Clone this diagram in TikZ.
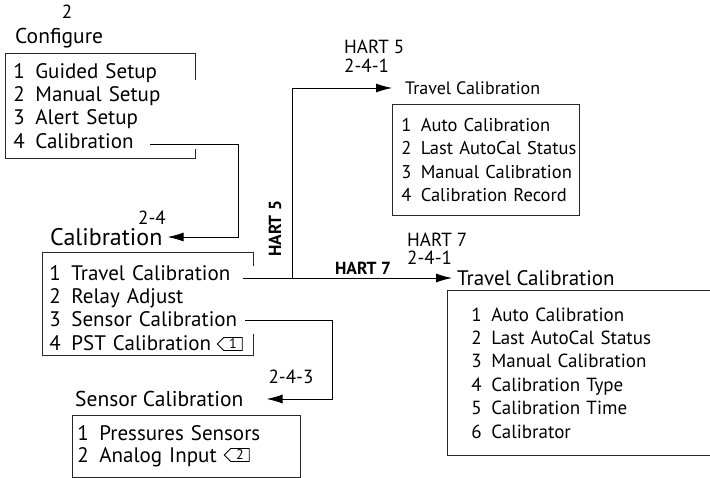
\documentclass[tikz,border=0pt]{standalone}
\usepackage{fontspec}
\setmainfont{PT Sans}
\usetikzlibrary{positioning,arrows.meta,shapes.symbols}

\newcommand{\mitem}[2]{\mbox{#1\enspace #2}}

\tikzset{
  menubox/.style={rectangle,draw=black!85,line width=0.9pt,anchor=north west,
    align=left,inner xsep=8pt,inner ysep=0pt,
    font=\fontsize{19}{23.4}\selectfont},
  openbox/.style={menubox,draw=none},
  head/.style={anchor=west,inner sep=0pt,font=\fontsize{20}{22}\selectfont},
  crumb/.style={inner sep=0pt,font=\fontsize{19}{21}\selectfont},
  hartlbl/.style={inner sep=0pt,font=\fontsize{17.5}{19}\selectfont\bfseries},
  link/.style={line width=0.9pt},
  arr/.style={link,-{Latex[length=16pt,width=9pt]}},
  keytag/.style={signal,signal to=west,signal pointer angle=90,draw,
    line width=0.8pt,inner xsep=3pt,inner ysep=0pt,minimum height=13pt,
    minimum width=25pt,font=\fontsize{14}{14}\selectfont}
}

\begin{document}
\begin{tikzpicture}[x=1pt,y=1pt]
  \useasboundingbox (0,0) rectangle (710,-478);

  % Configure menu
  \node[crumb] (cfgnum) at (67,-12) {2};
  \node[head,font=\fontsize{21.5}{23}\selectfont] (cfghead) at (15,-38) {Configure};
  \node[openbox,minimum width=190,minimum height=105,text width=174,
    font=\fontsize{21}{23.4}\selectfont] (cfg) at (5,-53)
    {\mitem{1}{Guided Setup}\\\mitem{2}{Manual Setup}\\\mitem{3}{Alert Setup}\\\mitem{4}{Calibration}};
  \draw[link,draw=black!85] ([yshift=-27]cfg.north east) -- (cfg.north east) -- (cfg.north west)
    -- (cfg.south west) -- (cfg.south east) -- ++(0,10);

  % Calibration menu
  \node[head,font=\fontsize{24}{26}\selectfont] (calhead) at (50,-237) {Calibration};
  \node[crumb] (calnum) at (152,-218) {2-4};
  \node[openbox,minimum width=211,minimum height=103,inner xsep=7pt,text width=197,
    font=\fontsize{21}{23.4}\selectfont] (cal) at (42,-256)
    {\mitem{1}{Travel Calibration}\\\mitem{2}{Relay Adjust}\\\mitem{3}{Sensor Calibration}\\\mitem{4}{PST Calibration}};
  \draw[link,draw=black!85] ([yshift=-10]cal.north east) -- ([yshift=4]cal.north east)
    -- ([yshift=4]cal.north west) -- ([yshift=4]cal.south west) -- ([yshift=4]cal.south east) -- ++(0,22);
  \node[keytag] (tag1) at (233,-344) {1};

  % Travel Calibration, HART 5
  \node[crumb,anchor=west] (h5ver) at (344,-47) {HART 5};
  \node[crumb,below=5pt of h5ver.south west,anchor=north west] (h5num) {2-4-1};
  \node[head,font=\fontsize{18}{20}\selectfont] (tc5head) at (405,-88) {Travel Calibration};
  \node[menubox,minimum width=187,minimum height=111,inner xsep=9pt,text width=169,
    font=\fontsize{18.5}{23.4}\selectfont] (tc5) at (392,-104)
    {\mitem{1}{Auto Calibration}\\\mitem{2}{Last AutoCal Status}\\\mitem{3}{Manual Calibration}\\\mitem{4}{Calibration Record}};

  % Travel Calibration, HART 7
  \node[crumb,anchor=west] (h7ver) at (407,-240) {HART 7};
  \node[crumb,below=4pt of h7ver.south west,anchor=north west] (h7num) {2-4-1};
  \node[head,font=\fontsize{21}{23}\selectfont] (tc7head) at (457,-278) {Travel Calibration};
  \node[menubox,minimum width=280,minimum height=165,inner xsep=24pt,text width=232] (tc7) at (447,-290)
    {\mitem{1}{Auto Calibration}\\\mitem{2}{Last AutoCal Status}\\\mitem{3}{Manual Calibration}\\\mitem{4}{Calibration Type}\\\mitem{5}{Calibration Time}\\\mitem{6}{Calibrator}};

  % Sensor Calibration
  \node[crumb] (sennum) at (291,-377) {2-4-3};
  \node[head,font=\fontsize{21.5}{23}\selectfont] (senhead) at (75,-399) {Sensor Calibration};
  \node[menubox,minimum width=228,minimum height=62,inner xsep=5pt,text width=218,
    font=\fontsize{21}{22.5}\selectfont] (sen) at (72,-415)
    {\mitem{1}{Pressures Sensors}\\\mitem{2}{Analog Input}};
  \node[keytag] (tag2) at (240,-455) {2};

  % connectors
  \coordinate (cfgout) at (150,-144);
  \coordinate (cfgbend) at (238,-144);
  \coordinate (travout) at (243,-278);
  \coordinate (split) at (292,-278);
  \coordinate (senout) at (245,-320);
  \coordinate (senbend) at (332,-320);

  \draw[arr,shorten >=5pt] (cfgout) -- (cfgbend) |- (calhead.east);
  \draw[arr,shorten >=13pt] (split) |- (tc5head.west);
  \draw[arr,shorten >=5pt] (travout) -- (travout -| tc7head.west);
  \draw[arr,shorten >=23pt] (senout) -- (senbend) |- (senhead.east);

  \node[hartlbl,rotate=90] (h5) at (275,-229) {HART 5};
  \node[hartlbl] (h7) at (363,-268) {HART 7};
\end{tikzpicture}
\end{document}
